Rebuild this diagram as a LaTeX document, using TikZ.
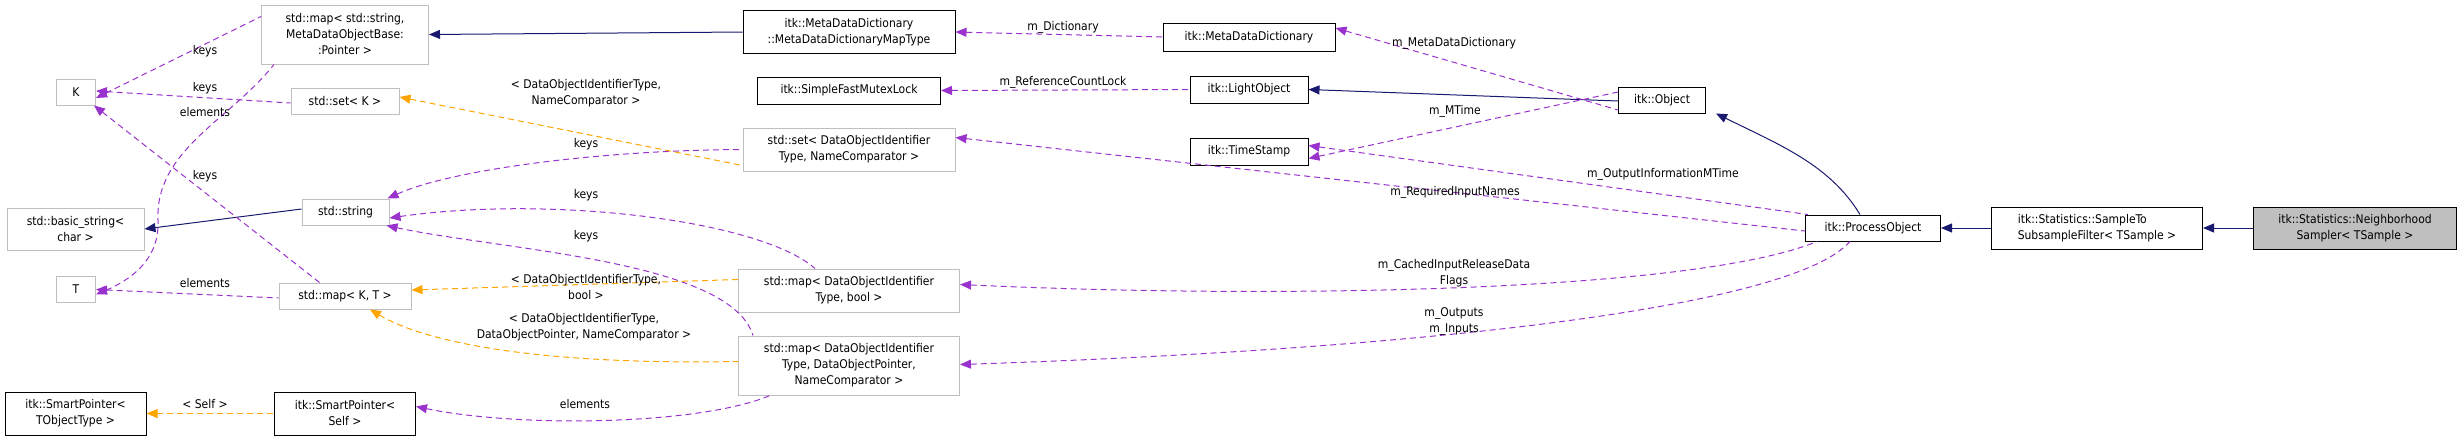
\documentclass[tikz,border=0pt]{standalone}
\usepackage{fontspec}
\setmainfont{DejaVu Sans Condensed}
\usetikzlibrary{arrows.meta}
\definecolor{mem}{HTML}{9A32CD}
\definecolor{tpl}{HTML}{FFA500}
\definecolor{inh}{HTML}{191970}
\definecolor{gb}{HTML}{BFBFBF}
\begin{document}
\begin{tikzpicture}[x=1pt,y=-1pt,
  every node/.style={font=\fontsize{12}{16}\selectfont, inner sep=0pt, align=center},
  doc/.style={draw=black, line width=1pt, fill=white},
  ext/.style={draw=gb, line width=1pt, fill=white},
  tip/.style={-{Triangle[width=9pt,length=11pt]}},
  m/.style={tip, draw=mem, dash pattern=on 6pt off 4pt, line width=1pt, fill=none, {Triangle[width=9pt,length=11pt]}-},
  t/.style={tip, draw=tpl, dash pattern=on 6pt off 4pt, line width=1pt, {Triangle[width=9pt,length=11pt]}-},
  i/.style={draw=inh, line width=1pt, {Triangle[width=9pt,length=11pt]}-},
  lbl/.style={fill=none}]
\useasboundingbox (0,0) rectangle (2461,440);
% nodes
\node[ext, minimum width=39pt, minimum height=26pt] (K) at (76,92) {K};
\node[ext, minimum width=39pt, minimum height=26pt] (T) at (76,289.5) {T};
\node[ext, minimum width=137pt, minimum height=42pt] (bstr) at (75.5,229) {std::basic\_string<\\char >};
\node[doc, minimum width=141pt, minimum height=43pt] (spt) at (75.5,413.5) {itk::SmartPointer<\\TObjectType >};
\node[ext, minimum width=167pt, minimum height=59pt] (mapstr) at (345,34.5) {std::map< std::string,\\MetaDataObjectBase:\\:Pointer >};
\node[ext, minimum width=108pt, minimum height=26pt] (setK) at (345,101) {std::set< K >};
\node[ext, minimum width=87pt, minimum height=26pt] (str) at (345.5,212) {std::string};
\node[ext, minimum width=132pt, minimum height=26pt] (mapKT) at (345,296) {std::map< K, T >};
\node[doc, minimum width=141pt, minimum height=43pt] (sps) at (345,413.5) {itk::SmartPointer<\\Self >};
\node[doc, minimum width=212pt, minimum height=43pt] (mdmt) at (849,32) {itk::MetaDataDictionary\\::MetaDataDictionaryMapType};
\node[doc, minimum width=183pt, minimum height=27pt] (mutex) at (849,90.5) {itk::SimpleFastMutexLock};
\node[ext, minimum width=212pt, minimum height=43pt] (setD) at (849,149.5) {std::set< DataObjectIdentifier\\Type, NameComparator >};
\node[ext, minimum width=221pt, minimum height=43pt] (mapB) at (849,290.5) {std::map< DataObjectIdentifier\\Type, bool >};
\node[ext, minimum width=221pt, minimum height=59pt] (mapP) at (849,365.5) {std::map< DataObjectIdentifier\\Type, DataObjectPointer,\\NameComparator >};
\node[doc, minimum width=172pt, minimum height=28pt] (mdd) at (1249,37) {itk::MetaDataDictionary};
\node[doc, minimum width=118pt, minimum height=27pt] (light) at (1249,89.5) {itk::LightObject};
\node[doc, minimum width=118pt, minimum height=27pt] (ts) at (1249,151.5) {itk::TimeStamp};
\node[doc, minimum width=87pt, minimum height=26pt] (obj) at (1662,100) {itk::Object};
\node[doc, minimum width=135pt, minimum height=26pt] (po) at (1873,228) {itk::ProcessObject};
\node[doc, minimum width=211pt, minimum height=42pt, align=left] (s2s) at (2097,228) {itk::Statistics::SampleTo\\SubsampleFilter< TSample >};
\node[draw=black, line width=1pt, fill=gb, minimum width=203pt, minimum height=42pt] (nbs) at (2355,228) {itk::Statistics::Neighborhood\\Sampler< TSample >};
% inheritance
\draw[i] (mapstr.east) -- (mdmt.west);
\draw[i] (light.east) -- ([yshift=-1pt]obj.west);
\draw[i] ([xshift=10pt]obj.south east) .. controls (1780,145) and (1830,165) .. ([xshift=-13pt]po.north);
\draw[i] (po.east) -- (s2s.west);
\draw[i] (s2s.east) -- (nbs.west);
\draw[i] (bstr.east) -- ([yshift=3pt]str.west);
% members
\draw[m] (mdmt.east) -- (mdd.west);
\draw[m] ([yshift=9pt]mdd.east) -- ([yshift=-10pt]obj.west);
\draw[m] (mutex.east) -- (light.west);
\draw[m] ([yshift=-7pt]ts.east) -- ([yshift=8pt]obj.west);
\draw[m] ([yshift=6pt]ts.east) -- ([xshift=3pt]po.north west);
\draw[m] ([yshift=12pt]setD.east) -- ([yshift=-3pt]po.west);
\draw[m] ([yshift=6pt]mapB.east) .. controls (1300,300) and (1700,290) .. ([xshift=12pt]po.south west);
\draw[m] ([yshift=1pt]mapP.east) .. controls (1400,350) and (1790,310) .. ([xshift=45pt]po.south west);
\draw[m] ([yshift=-6pt]K.east) -- ([yshift=18pt]mapstr.west);
\draw[m] ([yshift=-5pt]T.east) .. controls (130,280) and (160,260) .. (158,220) .. controls (155,150) and (230,120) .. ([xshift=13pt]mapstr.south west);
\draw[m] ([yshift=1pt]K.east) -- ([yshift=-2pt]setK.west);
\draw[m] ([xshift=-2pt]K.south east) -- ([xshift=41pt]mapKT.north west);
\draw[m] (T.east) -- ([yshift=-2pt]mapKT.west);
\draw[m] ([xshift=-2pt]str.north east) .. controls (450,170) and (600,150) .. (setD.west);
\draw[m] ([yshift=-6pt]str.east) .. controls (550,195) and (760,220) .. ([xshift=-34pt]mapB.north);
\draw[m] ([xshift=-3pt]str.south east) .. controls (500,250) and (730,260) .. ([xshift=15pt]mapP.north west);
\draw[m] ([yshift=7pt]sps.east) .. controls (520,428) and (700,425) .. ([xshift=32pt]mapP.south west);
% templates
\draw[t] ([yshift=4pt]setK.east) -- ([yshift=-16pt]setD.west);
\draw[t] ([yshift=6pt]mapKT.east) -- ([yshift=11pt]mapB.west);
\draw[t] ([xshift=25pt]mapKT.south) .. controls (430,345) and (550,365) .. ([yshift=4pt]mapP.west);
\draw[t] (spt.east) -- (sps.west);
% labels
\node[lbl] (l1) at (1063,27) {m\_Dictionary};
\node[lbl] (l2) at (1454,43) {m\_MetaDataDictionary};
\node[lbl] (l3) at (1063,82) {m\_ReferenceCountLock};
\node[lbl] (l4) at (1455,111) {m\_MTime};
\node[lbl] (l5) at (1663,174) {m\_OutputInformationMTime};
\node[lbl] (l6) at (1455,192) {m\_RequiredInputNames};
\node[lbl] (l7) at (1454,273) {m\_CachedInputReleaseData\\Flags};
\node[lbl] (l8) at (1454,321) {m\_Outputs\\m\_Inputs};
\node[lbl] (l9) at (205,51) {keys};
\node[lbl] (l10) at (205,88) {keys};
\node[lbl] (l11) at (205,112) {elements};
\node[lbl] (l12) at (205,176) {keys};
\node[lbl] (l13) at (205,283) {elements};
\node[lbl] (l14) at (205,404) {< Self >};
\node[lbl] (l15) at (586,93) {< DataObjectIdentifierType,\\NameComparator >};
\node[lbl] (l16) at (586,144) {keys};
\node[lbl] (l17) at (586,195) {keys};
\node[lbl] (l18) at (586,236) {keys};
\node[lbl] (l19) at (586,287) {< DataObjectIdentifierType,\\bool >};
\node[lbl] (l20) at (584,327) {< DataObjectIdentifierType,\\DataObjectPointer, NameComparator >};
\node[lbl] (l21) at (585,404) {elements};
\end{tikzpicture}
\end{document}
